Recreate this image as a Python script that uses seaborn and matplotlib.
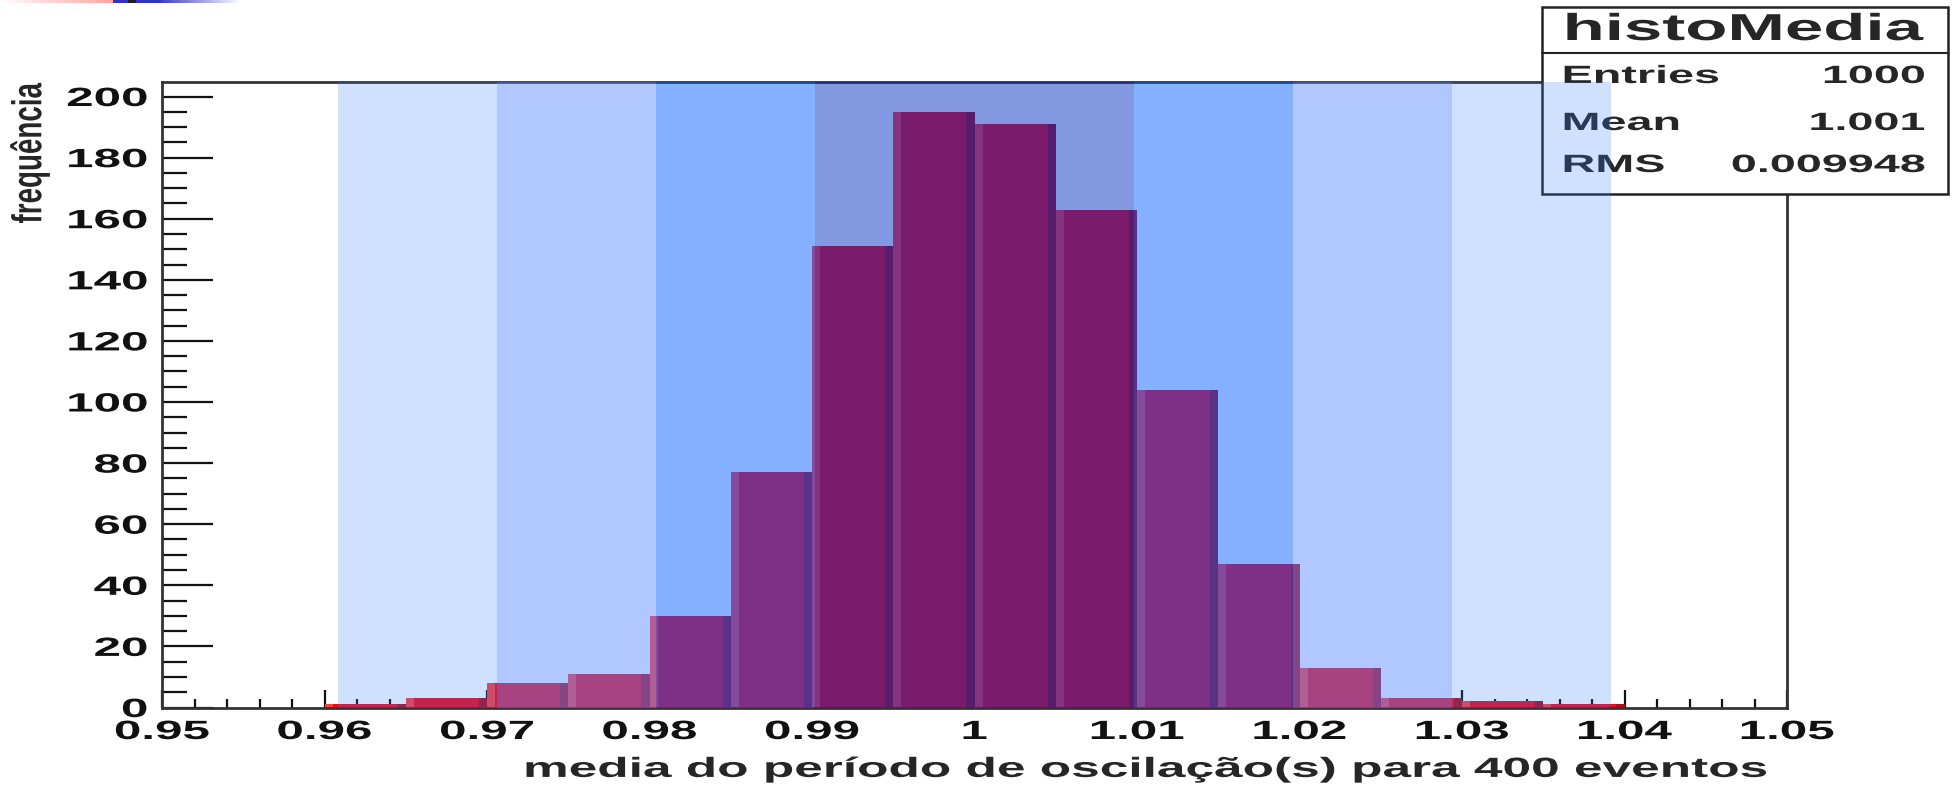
import numpy as np
import pandas as pd
import matplotlib
matplotlib.use("Agg")
import matplotlib.pyplot as plt
import seaborn as sns
from matplotlib.patches import Rectangle
from matplotlib.ticker import MultipleLocator, FixedLocator, FixedFormatter
from matplotlib.patheffects import AbstractPathEffect
from matplotlib.transforms import Affine2D

# ---------------- data ----------------
bin_edges = [0.960, 0.965, 0.970, 0.975, 0.980, 0.985, 0.990, 0.995, 1.000,
             1.005, 1.010, 1.015, 1.020, 1.025, 1.030, 1.035, 1.040]
counts = [1, 3, 8, 11, 30, 77, 151, 195, 191, 163, 104, 47, 13, 3, 2, 1]
x_ticks = [0.95, 0.96, 0.97, 0.98, 0.99, 1.00, 1.01, 1.02, 1.03, 1.04, 1.05]
x_tick_labels = ["0.95", "0.96", "0.97", "0.98", "0.99", "1",
                 "1.01", "1.02", "1.03", "1.04", "1.05"]
y_ticks = [0, 20, 40, 60, 80, 100, 120, 140, 160, 180, 200]
band_center = 1.0
band_sigma = 0.0098
band_k = [4, 3, 2, 1]
stats_title = "histoMedia"
stats_names = ["Entries", "Mean", "RMS"]
stats_values = ["1000", "1.001", "0.009948"]
x_label = "media do período de oscilação(s) para 400 eventos"
y_label = "frequência"


# the reference slide shows the ROOT canvas stretched horizontally,
# so the (real) text glyphs are drawn widened with a path effect
class HStretch(AbstractPathEffect):
    def __init__(self, sx, anchor="center"):
        super().__init__(offset=(0, 0))
        self.sx = sx
        self.anchor = anchor

    def draw_path(self, renderer, gc, tpath, affine, rgbFace=None):
        ext = affine.transform_path(tpath).get_extents()
        if self.anchor == "left":
            x0 = ext.x0
        elif self.anchor == "right":
            x0 = ext.x1
        else:
            x0 = 0.5 * (ext.x0 + ext.x1)
        st = affine + Affine2D().translate(-x0, 0).scale(self.sx, 1).translate(x0, 0)
        renderer.draw_path(gc, tpath, st, rgbFace)


SX = 1.87

# ---------------- style ----------------
sns.set_style("ticks")
plt.rcParams["font.family"] = ["Liberation Sans", "DejaVu Sans"]
plt.rcParams["font.weight"] = "bold"

W, H = 1957, 788
fig = plt.figure(figsize=(W / 100, H / 100), dpi=100)
fig.patch.set_facecolor("white")
ax = fig.add_axes([162 / W, 1 - 707.5 / H, (1787 - 162) / W, (707.5 - 82) / H])
ax.set_facecolor("white")

bar_red = (240 / 255, 10 / 255, 25 / 255)
bar_light = (255 / 255, 62 / 255, 62 / 255)
bar_dark = (172 / 255, 14 / 255, 28 / 255)

df = pd.DataFrame({
    "centre": [(a + b) / 2 for a, b in zip(bin_edges[:-1], bin_edges[1:])],
    "count": counts,
})
sns.histplot(data=df, x="centre", weights="count", bins=bin_edges,
             color=bar_red, alpha=1, linewidth=0, ax=ax, zorder=2)

# bevel strips on each bar
binw = np.diff(bin_edges)
ax.bar(bin_edges[:-1], counts, width=0.1 * binw, align="edge",
       color=bar_light, linewidth=0, zorder=2.1)
ax.bar(bin_edges[1:], counts, width=-0.1 * binw, align="edge",
       color=bar_dark, linewidth=0, zorder=2.1)

# translucent sigma bands drawn over everything
band_style = {
    4: ((52 / 255, 122 / 255, 255 / 255), 0.23),
    3: ((83 / 255, 135 / 255, 255 / 255), 0.46),
    2: ((0 / 255, 90 / 255, 255 / 255), 0.48),
    1: ((0 / 255, 45 / 255, 193 / 255), 0.49),
}
for k in band_k:
    col, a = band_style[k]
    if k == 1:
        ax.axvspan(band_center - band_sigma, band_center + band_sigma,
                   color=col, alpha=a, linewidth=0, zorder=4)
    else:
        ax.axvspan(band_center - k * band_sigma, band_center - (k - 1) * band_sigma,
                   color=col, alpha=a, linewidth=0, zorder=4)
        ax.axvspan(band_center + (k - 1) * band_sigma, band_center + k * band_sigma,
                   color=col, alpha=a, linewidth=0, zorder=4)

# axes
ax.set_xlim(x_ticks[0], x_ticks[-1])
ax.set_ylim(0, max(counts) * 1.05)
ax.xaxis.set_major_locator(FixedLocator(x_ticks))
ax.xaxis.set_major_formatter(FixedFormatter(x_tick_labels))
ax.xaxis.set_minor_locator(MultipleLocator(0.002))
ax.yaxis.set_major_locator(FixedLocator(y_ticks))
ax.yaxis.set_minor_locator(MultipleLocator(5))

ax.tick_params(axis="x", which="major", direction="in", length=13, width=1.6,
               pad=9, labelsize=19, colors="#111111")
ax.tick_params(axis="x", which="minor", direction="in", length=6.5, width=1.6,
               colors="#111111")
ax.tick_params(axis="y", which="major", direction="in", length=37, width=1.6,
               pad=10.5, labelsize=19, colors="#111111")
ax.tick_params(axis="y", which="minor", direction="in", length=18, width=1.6,
               colors="#111111")
for t in ax.xaxis.get_major_ticks():
    t.label1.set_fontweight("bold")
    t.label1.set_path_effects([HStretch(SX, "center")])
for t in ax.yaxis.get_major_ticks():
    t.label1.set_fontweight("bold")
    t.label1.set_path_effects([HStretch(SX, "right")])

for side, sp in ax.spines.items():
    sp.set_visible(True)
    sp.set_linewidth(2)
    sp.set_color("#333333")
    sp.set_zorder(3)

ax.set_xlabel(x_label, fontsize=20, fontweight="bold", loc="right",
              path_effects=[HStretch(1.85, "right")])
ax.xaxis.set_label_coords((1767 - 162) / (1787 - 162), -0.079)
ax.set_ylabel(y_label, fontsize=20, fontweight="bold", loc="top",
              path_effects=[HStretch(1.5, "center")])
ax.yaxis.label.set_va("center")
ax.yaxis.set_label_coords((30 - 162) / (1787 - 162), (707.5 - 83) / 625.5)

# stats box (under the translucent bands)
bx0, bx1 = 1542 / W, 1948 / W
by0, by1 = 1 - 194 / H, 1 - 7 / H
bdiv = 1 - 53 / H
ax.add_patch(Rectangle((bx0, by0), bx1 - bx0, by1 - by0, transform=fig.transFigure,
                       facecolor="white", edgecolor="#222222", linewidth=1.8,
                       zorder=3.5, clip_on=False))
ax.plot([bx0, bx1], [bdiv, bdiv], transform=fig.transFigure, color="#222222",
        linewidth=1.5, zorder=3.55, clip_on=False)
ax.text(1744 / W, 1 - 40 / H, stats_title, transform=fig.transFigure,
        ha="center", va="baseline", fontsize=27, fontweight="bold", zorder=3.6,
        path_effects=[HStretch(1.84, "center")])
row_base = [83, 130, 172]
for name, val, ry in zip(stats_names, stats_values, row_base):
    ax.text(1563 / W, 1 - ry / H, name, transform=fig.transFigure, ha="left",
            va="baseline", fontsize=18, fontweight="bold", zorder=3.6,
            path_effects=[HStretch(SX, "left")])
    ax.text(1925 / W, 1 - ry / H, val, transform=fig.transFigure, ha="right",
            va="baseline", fontsize=18, fontweight="bold", zorder=3.6,
            path_effects=[HStretch(SX, "right")])

# slide decoration stripe at the very top-left
n = 240
stripe = np.ones((1, n, 3))
for i in range(n):
    if i < 113:
        t = i / 113
        stripe[0, i] = (1.0, 1 - 0.37 * t, 1 - 0.37 * t)
    elif i < 128 or 136 <= i < 161:
        stripe[0, i] = (0.2, 0.2, 0.8)
    elif i < 136:
        stripe[0, i] = (0.12, 0.12, 0.12)
    else:
        t = (i - 161) / (n - 161)
        stripe[0, i] = (0.25 + 0.75 * t, 0.25 + 0.75 * t, 0.8 + 0.2 * t)
axd = fig.add_axes([0, 1 - 3 / H, n / W, 3 / H])
axd.imshow(stripe, aspect="auto", interpolation="nearest")
axd.axis("off")

fig.savefig("out.png", dpi=100)
